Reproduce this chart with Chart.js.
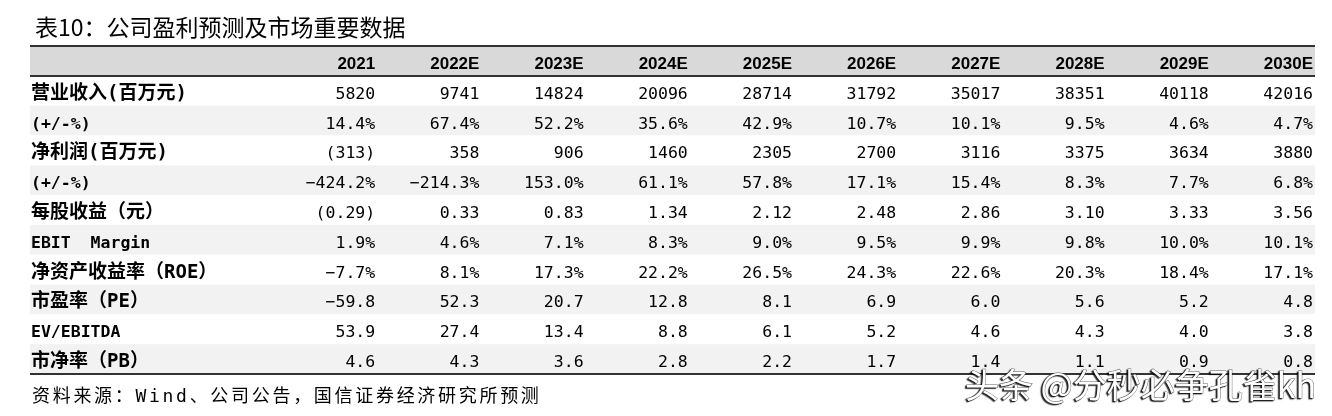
<!DOCTYPE html>
<html>
<head>
<meta charset="utf-8">
<script src="https://cdn.jsdelivr.net/npm/chart.js@4/dist/chart.umd.min.js"></script>
<style>
  body { margin: 0; background: #fff; }
  #wrap { width: 1332px; height: 416px; }
</style>
</head>
<body>
<div id="wrap"><canvas id="tableChart" width="1332" height="416"></canvas></div>
<script>
// table data
var years = ['2021', '2022E', '2023E', '2024E', '2025E', '2026E', '2027E', '2028E', '2029E', '2030E'];
var rowLabels = ['营业收入(百万元)', '(+/-%)', '净利润(百万元)', '(+/-%)', '每股收益（元）',
                 'EBIT  Margin', '净资产收益率（ROE）', '市盈率（PE）', 'EV/EBITDA', '市净率（PB）'];

var revenue       = [5820, 9741, 14824, 20096, 28714, 31792, 35017, 38351, 40118, 42016];
var revenueGrowth = [14.4, 67.4, 52.2, 35.6, 42.9, 10.7, 10.1, 9.5, 4.6, 4.7];
var netProfit     = [-313, 358, 906, 1460, 2305, 2700, 3116, 3375, 3634, 3880];
var profitGrowth  = [-424.2, -214.3, 153.0, 61.1, 57.8, 17.1, 15.4, 8.3, 7.7, 6.8];
var eps           = [-0.29, 0.33, 0.83, 1.34, 2.12, 2.48, 2.86, 3.10, 3.33, 3.56];
var ebitMargin    = [1.9, 4.6, 7.1, 8.3, 9.0, 9.5, 9.9, 9.8, 10.0, 10.1];
var roe           = [-7.7, 8.1, 17.3, 22.2, 26.5, 24.3, 22.6, 20.3, 18.4, 17.1];
var pe            = [-59.8, 52.3, 20.7, 12.8, 8.1, 6.9, 6.0, 5.6, 5.2, 4.8];
var evEbitda      = [53.9, 27.4, 13.4, 8.8, 6.1, 5.2, 4.6, 4.3, 4.0, 3.8];
var pb            = [4.6, 4.3, 3.6, 2.8, 2.2, 1.7, 1.4, 1.1, 0.9, 0.8];

var titleText = '表10：公司盈利预测及市场重要数据';
var sourceText = '资料来源：Wind、公司公告，国信证券经济研究所预测';
var watermark = '头条 @分秒必争孔雀kh';

// formatting
function minus(s) { return s.replace('-', '\u2212'); }
function fmtInt(v) { return v < 0 ? '(' + (-v) + ')' : String(v); }
function fmtPct(v) { return minus(v.toFixed(1) + '%'); }
function fmtEps(v) { return v < 0 ? '(' + (-v).toFixed(2) + ')' : v.toFixed(2); }
function fmtNum(v) { return minus(v.toFixed(1)); }

var rows = [
  [revenue, fmtInt], [revenueGrowth, fmtPct], [netProfit, fmtInt], [profitGrowth, fmtPct],
  [eps, fmtEps], [ebitMargin, fmtPct], [roe, fmtPct], [pe, fmtNum], [evEbitda, fmtNum], [pb, fmtNum]
];

var xMin = -1.832; // room for the label column

var datasets = [];
datasets.push({ kind: 'year', data: years.map(function (y, i) { return { x: i + 1, y: 0, t: y }; }) });
datasets.push({ kind: 'label', data: rowLabels.map(function (l, r) { return { x: xMin, y: r + 1, t: l }; }) });
rows.forEach(function (row, r) {
  datasets.push({
    kind: 'value',
    label: rowLabels[r],
    data: row[0].map(function (v, i) { return { x: i + 1, y: r + 1, t: row[1](v) }; })
  });
});
datasets.forEach(function (d) { d.pointRadius = 0; d.clip = false; });

var CJK = '"Noto Sans CJK SC"';
var MONO = '"DejaVu Sans Mono"';

var tablePlugin = {
  id: 'tableDraw',
  beforeDatasetsDraw: function (chart) {
    var ctx = chart.ctx, x = chart.scales.x, y = chart.scales.y, a = chart.chartArea;
    ctx.save();
    for (var r = 0; r <= rowLabels.length; r++) {
      var top = y.getPixelForValue(r - 0.5), bot = y.getPixelForValue(r + 0.5);
      ctx.fillStyle = r === 0 ? '#d9d9d9' : (r % 2 === 0 ? '#f2f2f2' : '#ffffff');
      ctx.fillRect(a.left, top, a.right - a.left, bot - top);
    }
    ctx.strokeStyle = '#333';
    ctx.lineWidth = 2;
    [-0.5, 0.5, rowLabels.length + 0.5].forEach(function (v) {
      var py = Math.round(y.getPixelForValue(v));
      ctx.beginPath();
      ctx.moveTo(a.left, py);
      ctx.lineTo(a.right, py);
      ctx.stroke();
    });
    ctx.restore();
  },
  afterDatasetsDraw: function (chart) {
    var ctx = chart.ctx, x = chart.scales.x;
    ctx.save();
    ctx.textBaseline = 'alphabetic';
    chart.data.datasets.forEach(function (ds, di) {
      var meta = chart.getDatasetMeta(di);
      meta.data.forEach(function (el, j) {
        var p = ds.data[j];
        var base = el.y + 8;
        if (ds.kind === 'label') {
          ctx.textAlign = 'left';
          ctx.fillStyle = '#000';
          ctx.font = /[\u4e00-\u9fff]/.test(p.t) ? 'bold 19px ' + MONO + ',' + CJK : 'bold 16.5px ' + MONO;
          ctx.fillText(p.t, el.x + 1, base);
        } else {
          var right = x.getPixelForValue(p.x + 0.5) - 2;
          ctx.textAlign = 'right';
          ctx.fillStyle = '#000';
          ctx.font = ds.kind === 'year' ? 'bold 17px "Liberation Sans"' : '16.5px ' + MONO;
          ctx.fillText(p.t, right, base);
        }
      });
    });
    ctx.restore();
  },
  afterDraw: function (chart) {
    var ctx = chart.ctx;
    ctx.save();
    ctx.textAlign = 'left';
    ctx.textBaseline = 'middle';
    ctx.fillStyle = '#000';
    ctx.font = '23px ' + CJK;
    ctx.fillText(titleText, 35, 27);

    ctx.font = '18px ' + MONO + ',' + CJK;
    ctx.letterSpacing = '2.7px';
    ctx.fillText(sourceText, 32, 397);
    ctx.letterSpacing = '0px';

    // watermark
    ctx.font = '34px ' + CJK;
    ctx.shadowColor = 'rgba(0,0,0,0.85)';
    ctx.shadowOffsetX = -1.5;
    ctx.shadowOffsetY = 1.5;
    ctx.shadowBlur = 1;
    ctx.lineWidth = 1;
    ctx.strokeStyle = 'rgba(40,40,40,0.7)';
    ctx.strokeText(watermark, 965, 385);
    ctx.fillStyle = '#fff';
    ctx.fillText(watermark, 965, 385);
    ctx.restore();
  }
};

new Chart(document.getElementById('tableChart').getContext('2d'), {
  type: 'scatter',
  data: { datasets: datasets },
  options: {
    responsive: false,
    animation: false,
    devicePixelRatio: 1,
    layout: { padding: { left: 30, right: 17, top: 46, bottom: 42 } },
    plugins: { legend: { display: false }, tooltip: { enabled: false } },
    scales: {
      x: { type: 'linear', min: xMin, max: 10.5, display: false },
      y: { type: 'linear', min: -0.5, max: 10.5, reverse: true, display: false }
    }
  },
  plugins: [tablePlugin]
});
</script>
</body>
</html>
